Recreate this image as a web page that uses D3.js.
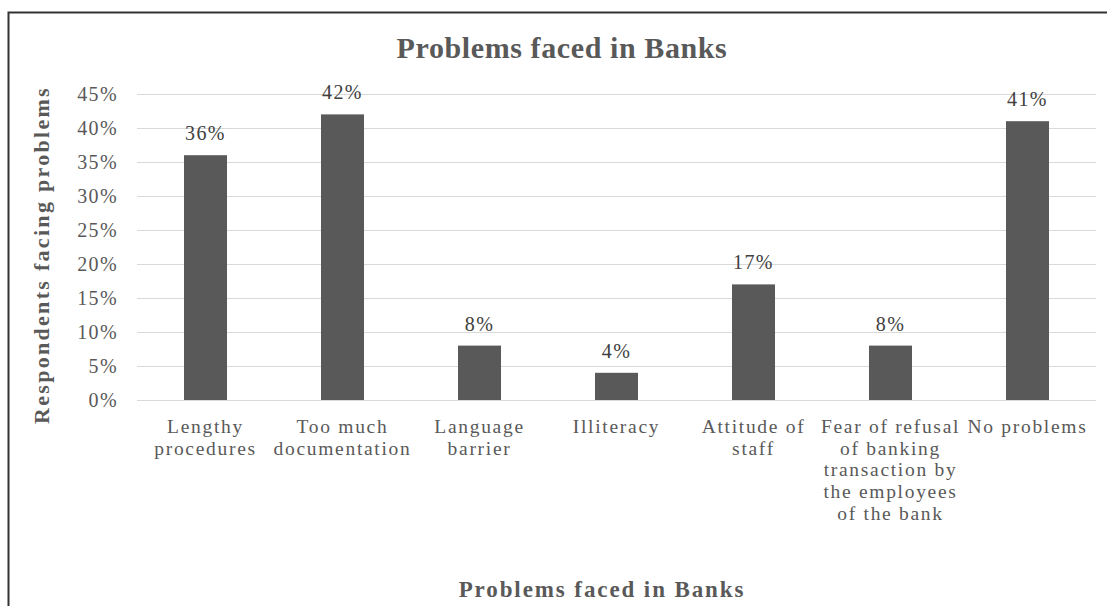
<!DOCTYPE html>
<html>
<head>
<meta charset="utf-8">
<script src="https://cdn.jsdelivr.net/npm/d3@7"></script>
<style>
  html, body { margin: 0; padding: 0; background: #fff; }
  svg { display: block; }
  text { font-family: "Liberation Serif", "DejaVu Serif", serif; }
</style>
</head>
<body>
<svg id="chart" width="1107" height="606"></svg>
<script>
// Share of respondents reporting each problem in banks
const categories = [
  "Lengthy procedures",
  "Too much documentation",
  "Language barrier",
  "Illiteracy",
  "Attitude of staff",
  "Fear of refusal of banking transaction by the employees of the bank",
  "No problems"
];
const labelLines = [
  ["Lengthy", "procedures"],
  ["Too much", "documentation"],
  ["Language", "barrier"],
  ["Illiteracy"],
  ["Attitude of", "staff"],
  ["Fear of refusal", "of banking", "transaction by", "the employees", "of the bank"],
  ["No problems"]
];
const values = [36, 42, 8, 4, 17, 8, 41];
const yTicks = [0, 5, 10, 15, 20, 25, 30, 35, 40, 45];

const chartTitle = "Problems faced in Banks";
const xTitle = "Problems faced in Banks";
const yTitle = "Respondents facing problems";

const svg = d3.select("#chart");
const W = 1107, H = 606;
const plot = { left: 137, right: 1096, top: 94, bottom: 400 };
const textGray = "#595959";

// outer frame (continues past the right and bottom edges)
svg.append("rect")
  .attr("x", 8.5).attr("y", 12.5)
  .attr("width", W + 20).attr("height", H + 20)
  .attr("fill", "none").attr("stroke", "#333").attr("stroke-width", 2);

const x = d3.scaleBand()
  .domain(categories)
  .range([plot.left, plot.right])
  .paddingInner(0.686)
  .paddingOuter(0.343);

const y = d3.scaleLinear()
  .domain([0, 45])
  .range([plot.bottom, plot.top]);

// horizontal gridlines
svg.append("g")
  .selectAll("line")
  .data(yTicks)
  .join("line")
  .attr("x1", plot.left).attr("x2", plot.right)
  .attr("y1", d => Math.round(y(d)) + 0.5)
  .attr("y2", d => Math.round(y(d)) + 0.5)
  .attr("stroke", "#d9d9d9").attr("stroke-width", 1);

// y axis tick labels
const yAxis = d3.axisLeft(y)
  .tickValues(yTicks)
  .tickFormat(d => d + "%")
  .tickSize(0)
  .tickPadding(19);
const gy = svg.append("g")
  .attr("transform", `translate(${plot.left},0)`)
  .call(yAxis);
gy.select(".domain").remove();
gy.selectAll("text")
  .attr("fill", textGray)
  .style("font-size", "20px")
  .style("letter-spacing", "1.4px")
  .style("font-family", "'Liberation Serif', serif");

// bars
svg.append("g")
  .selectAll("rect")
  .data(values)
  .join("rect")
  .attr("x", (d, i) => x(categories[i]))
  .attr("y", d => y(d))
  .attr("width", x.bandwidth())
  .attr("height", d => y(0) - y(d))
  .attr("fill", "#595959");

// value labels
svg.append("g")
  .selectAll("text")
  .data(values)
  .join("text")
  .attr("x", (d, i) => x(categories[i]) + x.bandwidth() / 2)
  .attr("y", d => y(d) - 15)
  .attr("text-anchor", "middle")
  .attr("fill", "#404040")
  .style("font-size", "20px")
  .style("letter-spacing", "1.4px")
  .text(d => d + "%");

// x axis category labels, one text per wrapped line
const xAxis = d3.axisBottom(x).tickSize(0).tickFormat("");
const gx = svg.append("g")
  .attr("transform", `translate(0,${plot.bottom})`)
  .call(xAxis);
gx.select(".domain").remove();
gx.selectAll(".tick").each(function(d, i) {
  d3.select(this).selectAll("text.cat")
    .data(labelLines[i])
    .join("text")
    .attr("class", "cat")
    .attr("x", 0)
    .attr("y", (line, k) => 33 + k * 21.7)
    .attr("text-anchor", "middle")
    .attr("fill", textGray)
    .style("font-size", "19.5px")
    .style("letter-spacing", "1.7px")
    .style("font-family", "'Liberation Serif', serif")
    .text(line => line);
});

// chart title
svg.append("text")
  .attr("x", 562).attr("y", 58)
  .attr("text-anchor", "middle")
  .attr("fill", textGray)
  .style("font-size", "30px")
  .style("font-weight", "bold")
  .style("letter-spacing", "0.6px")
  .text(chartTitle);

// axis titles
svg.append("text")
  .attr("x", 602).attr("y", 597)
  .attr("text-anchor", "middle")
  .attr("fill", textGray)
  .style("font-size", "23px")
  .style("font-weight", "bold")
  .style("letter-spacing", "1.9px")
  .text(xTitle);

svg.append("text")
  .attr("transform", "translate(49,255) rotate(-90)")
  .attr("text-anchor", "middle")
  .attr("fill", textGray)
  .style("font-size", "22px")
  .style("font-weight", "bold")
  .style("letter-spacing", "2.3px")
  .text(yTitle);
</script>
</body>
</html>
